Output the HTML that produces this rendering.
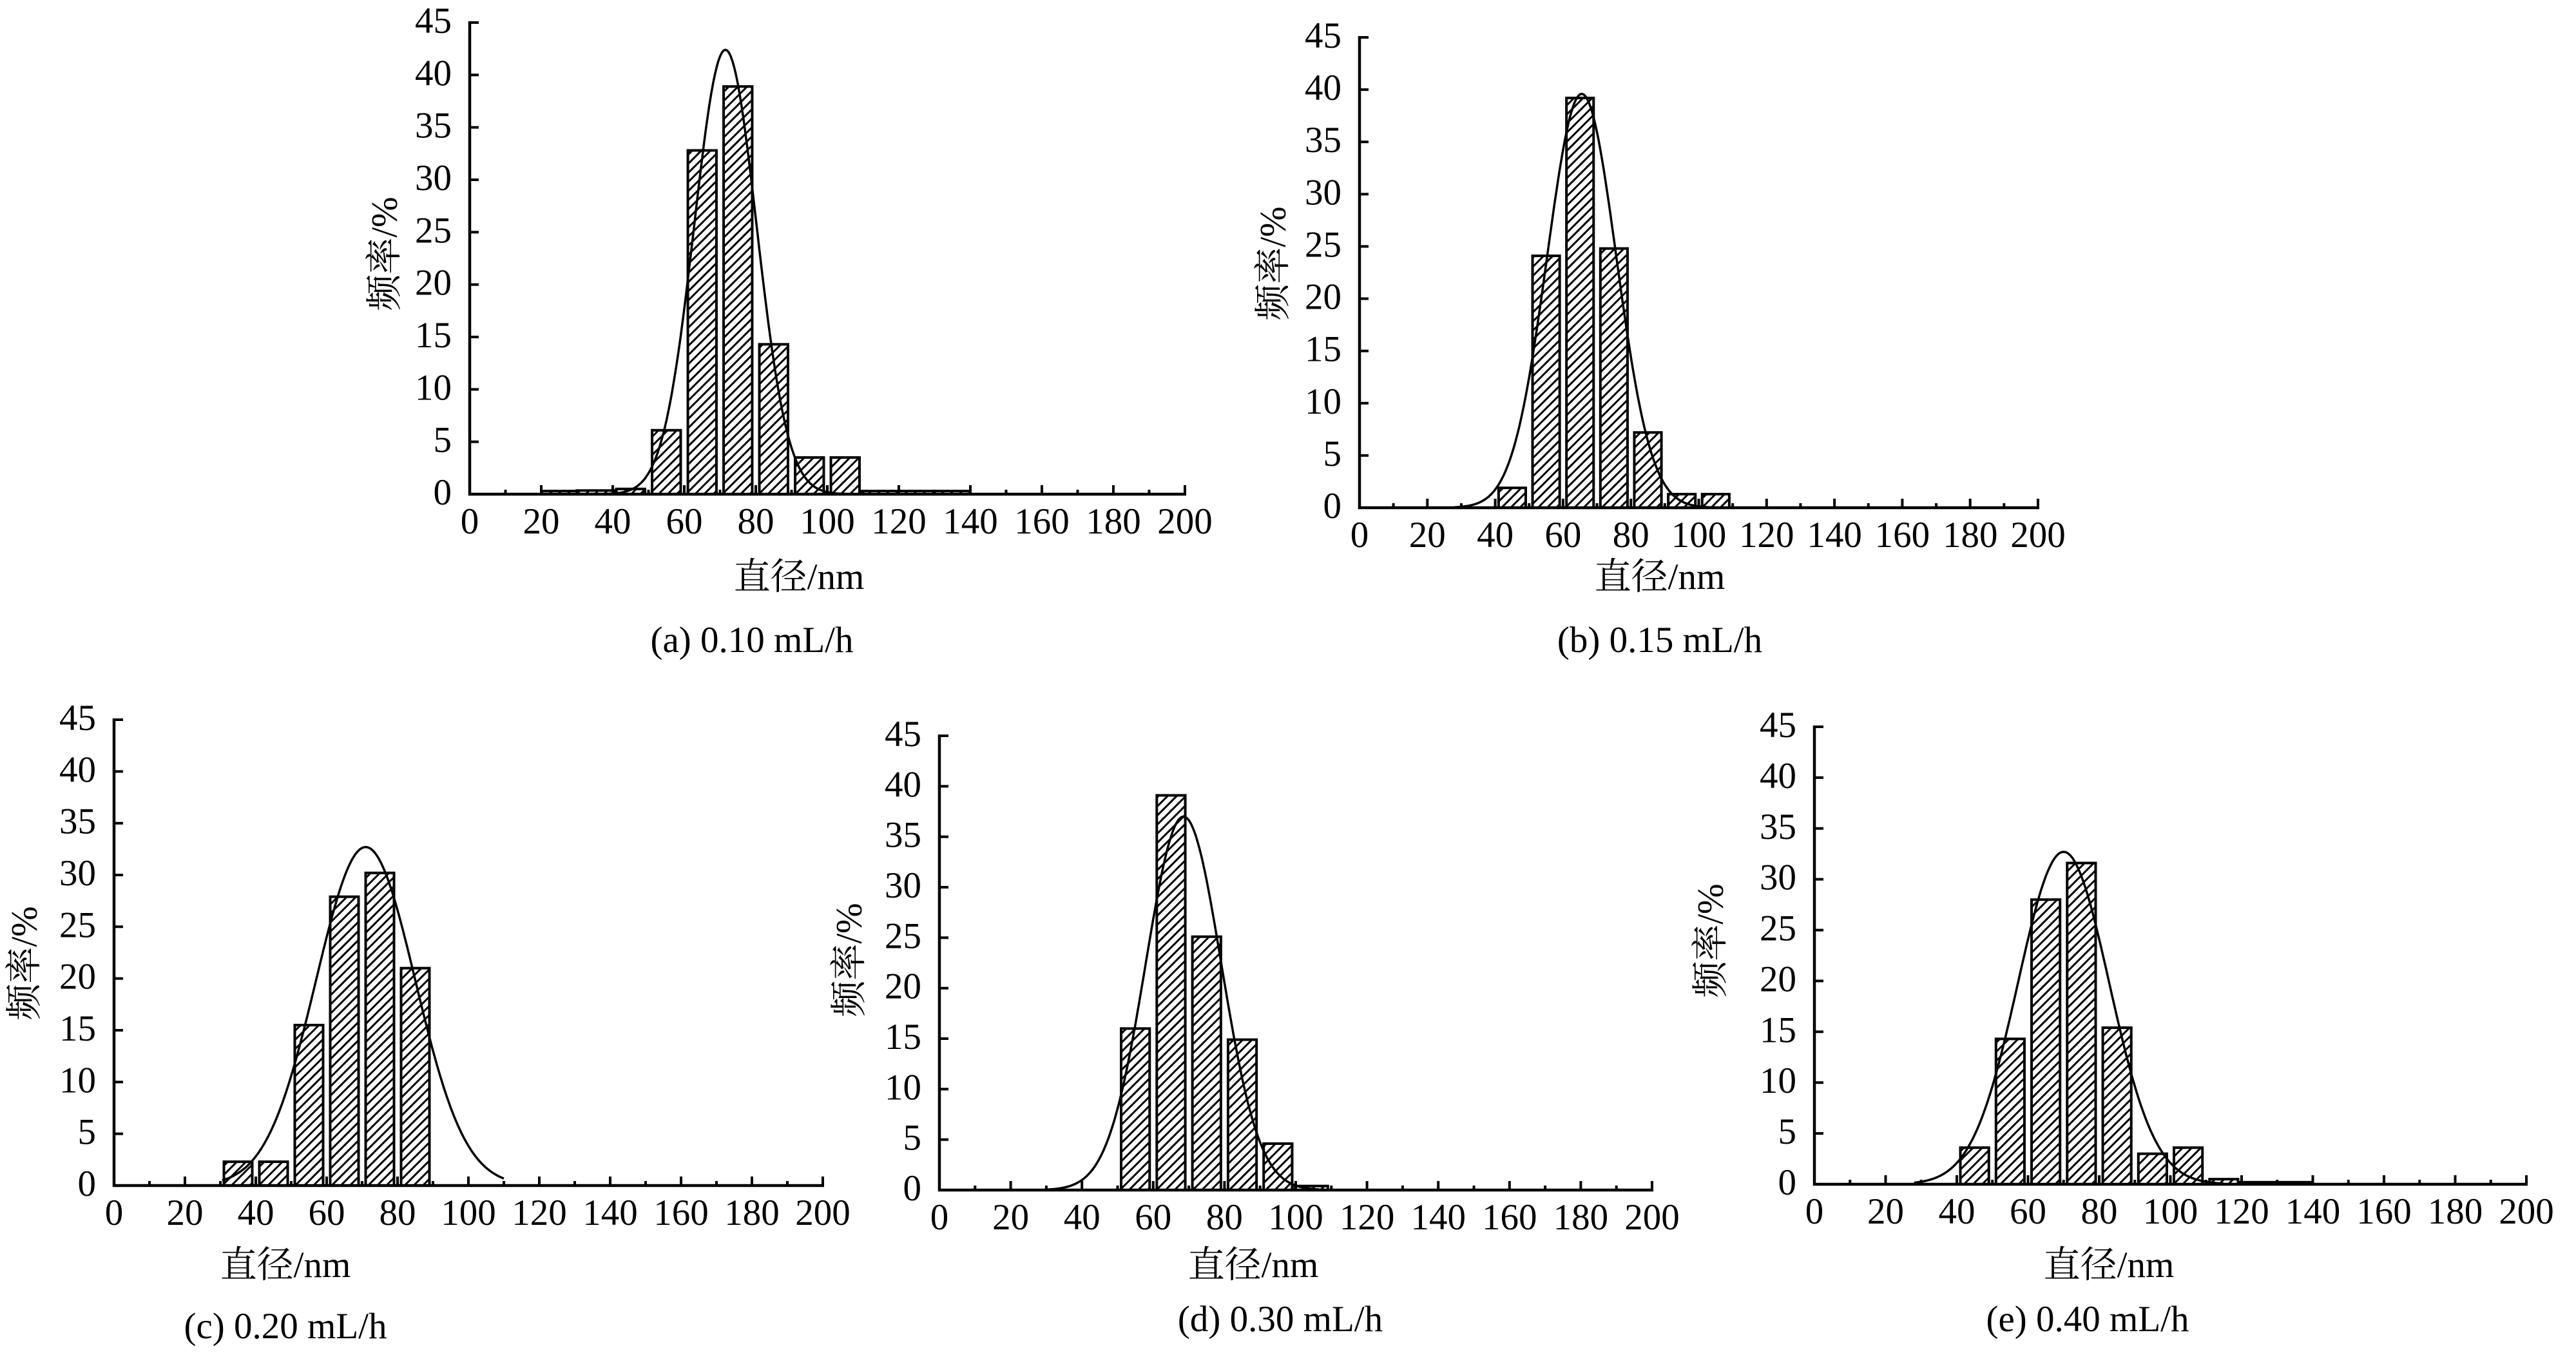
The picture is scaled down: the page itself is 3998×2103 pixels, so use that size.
<!DOCTYPE html>
<html><head><meta charset="utf-8"><style>
html,body{margin:0;padding:0;background:#fff;}
svg{display:block;}
text{font-family:"Liberation Serif","Noto Serif CJK SC",serif;font-size:57px;fill:#000;}
</style></head><body>
<svg id="s" width="3998" height="2103" viewBox="0 0 3998 2103" xmlns="http://www.w3.org/2000/svg">
<defs>
<pattern id="h" patternUnits="userSpaceOnUse" width="10" height="10" patternTransform="rotate(45)">
<rect width="10" height="10" fill="#fff"/>
<line x1="5" y1="0" x2="5" y2="10" stroke="#000" stroke-width="3"/>
</pattern>
</defs>
<rect width="3998" height="2103" fill="#fff"/>

<g id="A">
<text class="xt">0</text><text class="xt">20</text><text class="xt">40</text><text class="xt">60</text><text class="xt">80</text><text class="xt">100</text><text class="xt">120</text><text class="xt">140</text><text class="xt">160</text><text class="xt">180</text><text class="xt">200</text>
<text class="yt">0</text><text class="yt">5</text><text class="yt">10</text><text class="yt">15</text><text class="yt">20</text><text class="yt">25</text><text class="yt">30</text><text class="yt">35</text><text class="yt">40</text><text class="yt">45</text>
<text x="597" y="394" text-anchor="middle" dominant-baseline="central" transform="rotate(-90 597 394)">频率/%</text>
<text x="1240" y="914" text-anchor="middle">直径/nm</text>
<text x="1167" y="1012" text-anchor="middle">(a) 0.10 mL/h</text>
</g>

<g id="B">
<text class="xt">0</text><text class="xt">20</text><text class="xt">40</text><text class="xt">60</text><text class="xt">80</text><text class="xt">100</text><text class="xt">120</text><text class="xt">140</text><text class="xt">160</text><text class="xt">180</text><text class="xt">200</text>
<text class="yt">0</text><text class="yt">5</text><text class="yt">10</text><text class="yt">15</text><text class="yt">20</text><text class="yt">25</text><text class="yt">30</text><text class="yt">35</text><text class="yt">40</text><text class="yt">45</text>
<text x="1976" y="409" text-anchor="middle" dominant-baseline="central" transform="rotate(-90 1976 409)">频率/%</text>
<text x="2576" y="914" text-anchor="middle">直径/nm</text>
<text x="2576" y="1012" text-anchor="middle">(b) 0.15 mL/h</text>
</g>

<g id="C">
<text class="xt">0</text><text class="xt">20</text><text class="xt">40</text><text class="xt">60</text><text class="xt">80</text><text class="xt">100</text><text class="xt">120</text><text class="xt">140</text><text class="xt">160</text><text class="xt">180</text><text class="xt">200</text>
<text class="yt">0</text><text class="yt">5</text><text class="yt">10</text><text class="yt">15</text><text class="yt">20</text><text class="yt">25</text><text class="yt">30</text><text class="yt">35</text><text class="yt">40</text><text class="yt">45</text>
<text x="38" y="1495" text-anchor="middle" dominant-baseline="central" transform="rotate(-90 38 1495)">频率/%</text>
<text x="443" y="1982" text-anchor="middle">直径/nm</text>
<text x="443" y="2077" text-anchor="middle">(c) 0.20 mL/h</text>
</g>

<g id="D">
<text class="xt">0</text><text class="xt">20</text><text class="xt">40</text><text class="xt">60</text><text class="xt">80</text><text class="xt">100</text><text class="xt">120</text><text class="xt">140</text><text class="xt">160</text><text class="xt">180</text><text class="xt">200</text>
<text class="yt">0</text><text class="yt">5</text><text class="yt">10</text><text class="yt">15</text><text class="yt">20</text><text class="yt">25</text><text class="yt">30</text><text class="yt">35</text><text class="yt">40</text><text class="yt">45</text>
<text x="1318" y="1490" text-anchor="middle" dominant-baseline="central" transform="rotate(-90 1318 1490)">频率/%</text>
<text x="1945" y="1982" text-anchor="middle">直径/nm</text>
<text x="1987" y="2066" text-anchor="middle">(d) 0.30 mL/h</text>
</g>

<g id="E">
<text class="xt">0</text><text class="xt">20</text><text class="xt">40</text><text class="xt">60</text><text class="xt">80</text><text class="xt">100</text><text class="xt">120</text><text class="xt">140</text><text class="xt">160</text><text class="xt">180</text><text class="xt">200</text>
<text class="yt">0</text><text class="yt">5</text><text class="yt">10</text><text class="yt">15</text><text class="yt">20</text><text class="yt">25</text><text class="yt">30</text><text class="yt">35</text><text class="yt">40</text><text class="yt">45</text>
<text x="2655" y="1460" text-anchor="middle" dominant-baseline="central" transform="rotate(-90 2655 1460)">频率/%</text>
<text x="3273" y="1982" text-anchor="middle">直径/nm</text>
<text x="3240" y="2066" text-anchor="middle">(e) 0.40 mL/h</text>
</g>
</svg>
<script>
var NS="http://www.w3.org/2000/svg";
var P=[
{id:"A",x0:729,x1:1839,y0:767,y45:35,
 bars:[[20,30,.3],[30,41,.35],[41,49,.5],[51,59,6.1],[61,69,32.8],[71,79,38.9],[81,89,14.3],[91,99,3.5],[101,109,3.5],[109,140,.3]],
 c:[71.5,8.7,42.4,35,118]},
{id:"B",x0:2110,x1:3163,y0:788,y45:58,
 bars:[[41,49,1.9],[51,59,24.1],[61,69,39.2],[71,79,24.8],[81,89,7.2],[91,99,1.3],[101,109,1.3]],
 c:[65.5,10.2,39.6,28,106]},
{id:"C",x0:177,x1:1277,y0:1840,y45:1117,
 bars:[[31,39,2.3],[41,49,2.3],[51,59,15.5],[61,69,27.9],[71,79,30.2],[81,89,21.0]],
 c:[71,14,32.7,30.5,110]},
{id:"D",x0:1458,x1:2564,y0:1847,y45:1142,
 bars:[[51,59,16],[61,69,39.1],[71,79,25.1],[81,89,14.9],[91,99,4.6],[99,109,0.4]],
 c:[68.5,10.6,37,30,108]},
{id:"E",x0:2816,x1:3921,y0:1838,y45:1128,
 bars:[[41,49,3.6],[51,59,14.3],[61,69,28],[71,79,31.6],[81,89,15.4],[91,99,3],[101,109,3.6],[111,119,0.5],[119,140,0.2]],
 c:[70,12.8,32.7,28,115]}
];
function el(t,a,p){var e=document.createElementNS(NS,t);for(var k in a)e.setAttribute(k,a[k]);p.appendChild(e);return e;}
P.forEach(function(p){
 var g=document.getElementById(p.id);
 var X=function(v){return p.x0+(p.x1-p.x0)*v/200;};
 var Y=function(v){return p.y0-(p.y0-p.y45)*v/45;};
 var sg=el("g",{},g);
 p.bars.forEach(function(b){
  el("rect",{x:X(b[0]),y:Y(b[2]),width:X(b[1])-X(b[0]),height:p.y0-Y(b[2]),fill:"url(#h)",stroke:"#000","stroke-width":4},sg);
 });
 var c=p.c,pts=[];
 for(var x=c[3];x<=c[4];x+=0.5){var v=c[2]*Math.exp(-(x-c[0])*(x-c[0])/(2*c[1]*c[1]));pts.push(X(x).toFixed(1)+","+Y(v).toFixed(1));}
 el("polyline",{points:pts.join(" "),fill:"none",stroke:"#000","stroke-width":3.5},sg);
 el("line",{x1:p.x0,y1:p.y45-2,x2:p.x0,y2:p.y0+2,stroke:"#000","stroke-width":4.5},sg);
 el("line",{x1:p.x0-2,y1:p.y0,x2:p.x1+2,y2:p.y0,stroke:"#000","stroke-width":4.5},sg);
 for(var i=0;i<=20;i++){var L=i%2?7:14;el("line",{x1:X(i*10),y1:p.y0,x2:X(i*10),y2:p.y0-L,stroke:"#000","stroke-width":4},sg);}
 for(var j=0;j<=9;j++){el("line",{x1:p.x0,y1:Y(j*5),x2:p.x0+14,y2:Y(j*5),stroke:"#000","stroke-width":4},sg);}
 var xt=g.querySelectorAll(".xt");
 for(var i=0;i<xt.length;i++){xt[i].setAttribute("x",X(i*20));xt[i].setAttribute("y",p.y0+61);xt[i].setAttribute("text-anchor","middle");}
 var yt=g.querySelectorAll(".yt");
 for(var j=0;j<yt.length;j++){yt[j].setAttribute("x",p.x0-28);yt[j].setAttribute("y",Y(j*5)+16);yt[j].setAttribute("text-anchor","end");}
});
</script>
</body></html>
